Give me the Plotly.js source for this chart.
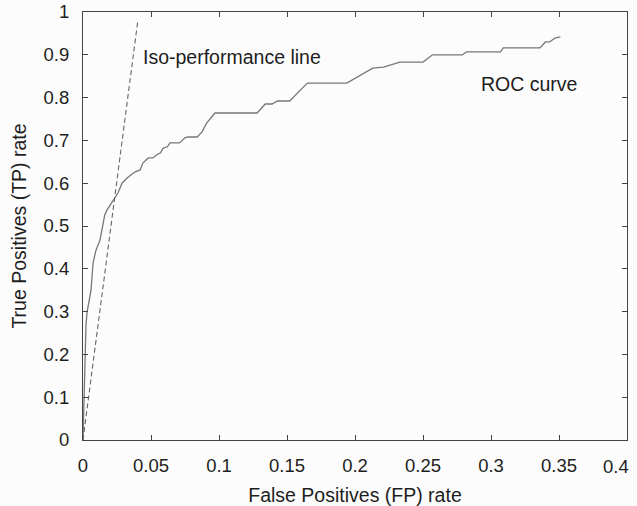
<!DOCTYPE html>
<html>
<head>
<meta charset="utf-8">
<script src="https://cdn.plot.ly/plotly-3.0.1.min.js"></script>
<style>html,body{margin:0;padding:0;background:#fcfcfc;}#chart{width:637px;height:506px;}</style>
</head>
<body>
<div id="chart"></div>
<script>
// ROC curve points (FP rate, TP rate)
const rocFP = [0, 0.0007, 0.0015, 0.0022, 0.003, 0.0044, 0.0059, 0.0074, 0.0096, 0.0125, 0.014, 0.016, 0.0176, 0.0199, 0.022, 0.0257, 0.0287, 0.0324, 0.038, 0.042, 0.044, 0.048, 0.0515, 0.054, 0.057, 0.059, 0.062, 0.064, 0.071, 0.075, 0.077, 0.084, 0.0875, 0.091, 0.097, 0.128, 0.134, 0.139, 0.143, 0.152, 0.160, 0.165, 0.194, 0.204, 0.213, 0.221, 0.233, 0.250, 0.257, 0.279, 0.282, 0.307, 0.309, 0.336, 0.340, 0.343, 0.347, 0.351];
const rocTP = [0, 0.093, 0.234, 0.269, 0.299, 0.327, 0.350, 0.414, 0.444, 0.467, 0.491, 0.526, 0.537, 0.549, 0.561, 0.577, 0.600, 0.612, 0.626, 0.631, 0.647, 0.659, 0.659, 0.666, 0.671, 0.682, 0.685, 0.694, 0.694, 0.706, 0.708, 0.708, 0.720, 0.741, 0.764, 0.764, 0.785, 0.785, 0.792, 0.792, 0.818, 0.834, 0.834, 0.853, 0.869, 0.871, 0.883, 0.883, 0.900, 0.900, 0.907, 0.907, 0.916, 0.916, 0.930, 0.930, 0.939, 0.942];
// Iso-performance line endpoints
const isoFP = [0, 0.0402];
const isoTP = [0, 0.977];
const xTicks = [0, 0.05, 0.1, 0.15, 0.2, 0.25, 0.3, 0.35, 0.4];
const xTickText = ['0', '0.05', '0.1', '0.15', '0.2', '0.25', '0.3', '0.35', '0.4'];
const yTicks = [0, 0.1, 0.2, 0.3, 0.4, 0.5, 0.6, 0.7, 0.8, 0.9, 1];
const yTickText = ['0', '0.1', '0.2', '0.3', '0.4', '0.5', '0.6', '0.7', '0.8', '0.9', '1'];
const labels = ['Iso-performance line', 'ROC curve'];

const font = {family: 'Liberation Sans, Arial, sans-serif', color: '#1e1e1e'};
const F = (s) => Object.assign({size: s}, font);

// last x tick label is drawn as an annotation so it stays inside the page (as in the original)
const xTickShown = xTickText.slice(0, -1).concat(['']);

const data = [
  {x: rocFP, y: rocTP, mode: 'lines', type: 'scatter', line: {color: '#777', width: 1.3}, hoverinfo: 'skip'},
  {x: isoFP, y: isoTP, mode: 'lines', type: 'scatter', line: {color: '#666', width: 1.1, dash: '5px,3px'}, hoverinfo: 'skip'}
];

const layout = {
  width: 637, height: 506,
  margin: {l: 83, r: 10, t: 12, b: 66},
  paper_bgcolor: '#fcfcfc', plot_bgcolor: '#fcfcfc',
  showlegend: false,
  font: F(19),
  xaxis: {
    range: [0, 0.4], tickvals: xTicks, ticktext: xTickShown,
    ticks: 'inside', ticklen: 5, tickcolor: '#444', mirror: 'ticks',
    showline: true, linecolor: '#444', linewidth: 1, showgrid: false, zeroline: false,
    ticklabelstandoff: 9,
    tickfont: F(18.5),
    title: {text: 'False Positives (FP) rate', font: F(19.5), standoff: 13}
  },
  yaxis: {
    range: [0, 1], tickvals: yTicks, ticktext: yTickText,
    ticks: 'inside', ticklen: 5, tickcolor: '#444', mirror: 'ticks',
    showline: true, linecolor: '#444', linewidth: 1, showgrid: false, zeroline: false,
    ticklabelstandoff: 9,
    tickfont: F(18.5),
    title: {text: 'True Positives (TP) rate', font: F(19.5), standoff: 11}
  },
  annotations: [
    {x: 0.0424, y: 0.895, xref: 'x', yref: 'y', text: labels[0], showarrow: false, xanchor: 'left', yanchor: 'middle', font: F(19.5)},
    {x: 0.2912, y: 0.832, xref: 'x', yref: 'y', text: labels[1], showarrow: false, xanchor: 'left', yanchor: 'middle', font: F(19.5)},
    {x: xTicks[xTicks.length - 1], y: 0, xref: 'x', yref: 'paper', text: xTickText[xTickText.length - 1], showarrow: false, xanchor: 'right', yanchor: 'top', xshift: 4, yshift: -14, font: F(18.5)}
  ]
};

Plotly.newPlot('chart', data, layout, {staticPlot: true, displayModeBar: false});
</script>
</body>
</html>
